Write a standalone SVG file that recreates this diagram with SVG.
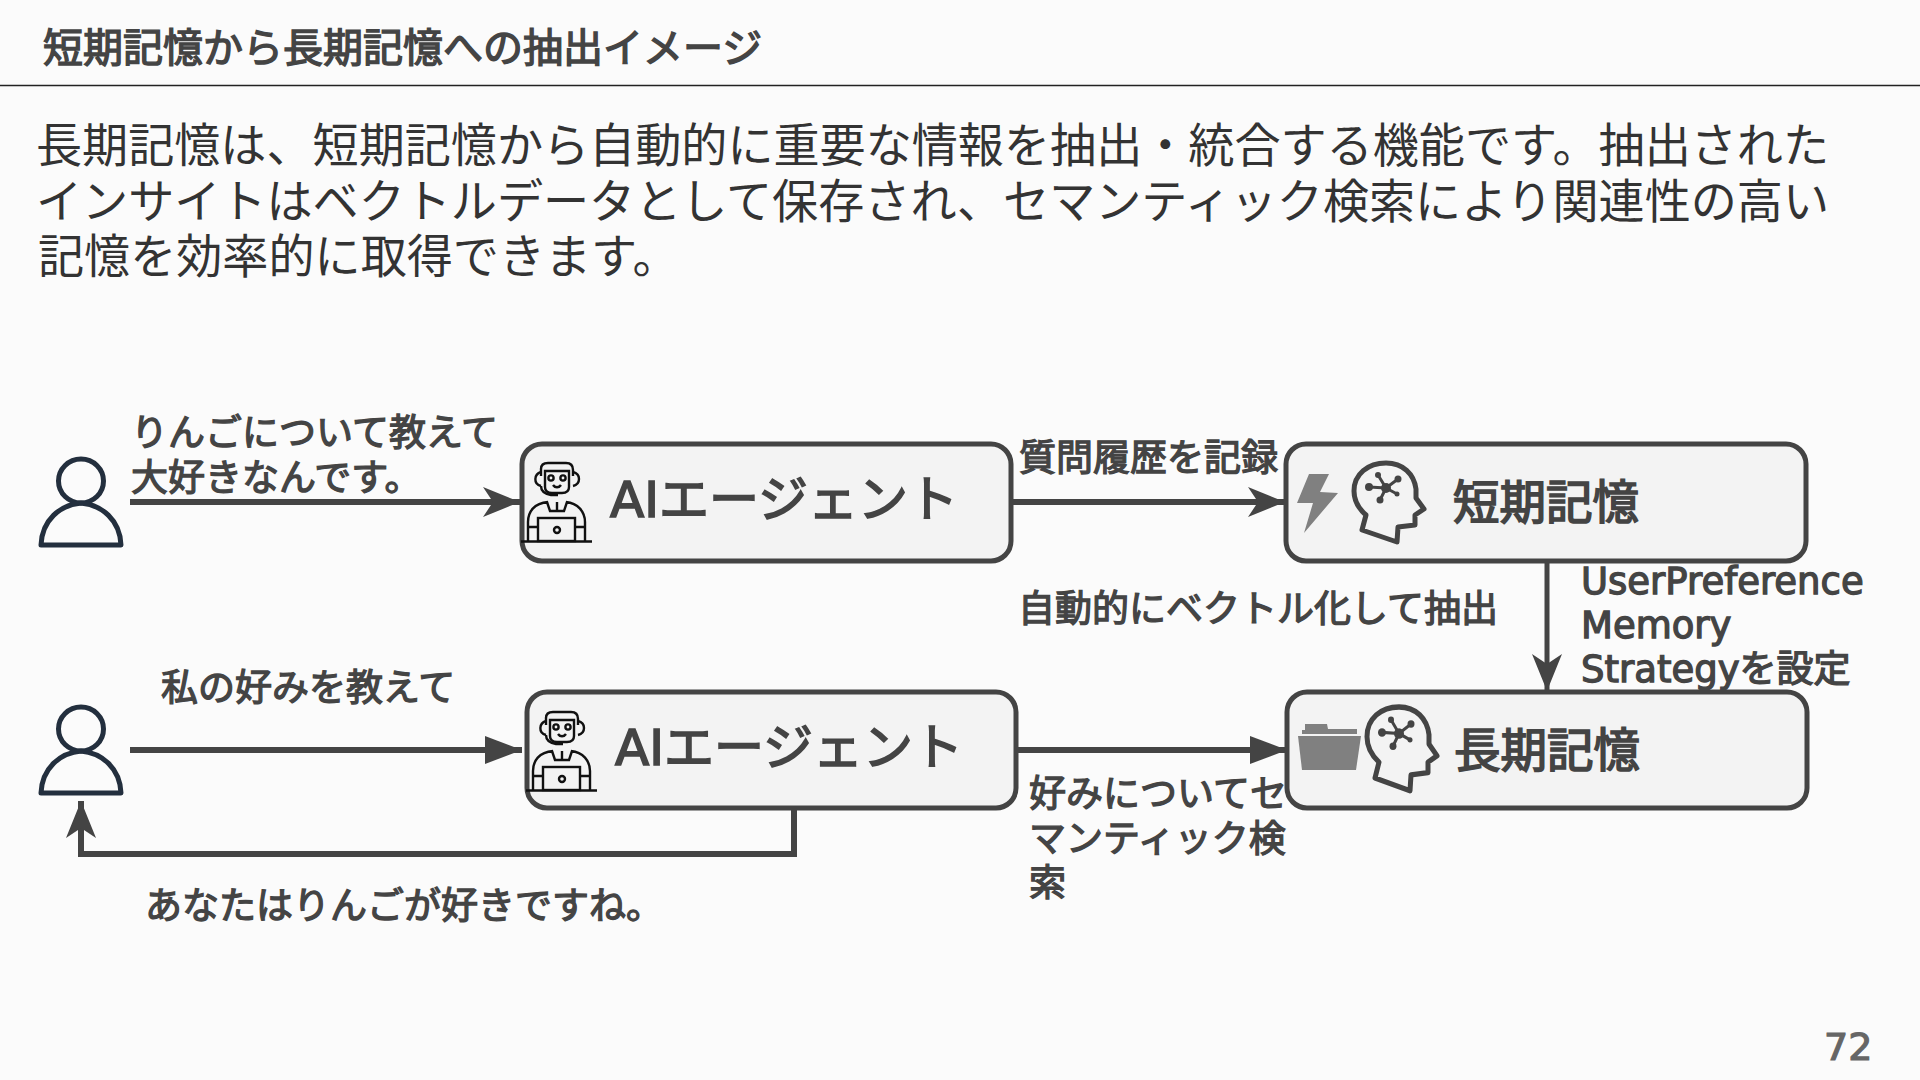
<svg xmlns="http://www.w3.org/2000/svg" width="1920" height="1080" viewBox="0 0 1920 1080">
<style>
text{font-family:"DejaVu Sans","Noto Sans CJK JP",sans-serif}
.lb{font-size:37px;fill:#444;stroke:#444;stroke-width:1.300}
.nd{font-size:46.500px;fill:#444;stroke:#444;stroke-width:1.700}
.ai{font-size:50px}
.body{font-size:46.100px;fill:#333}
.box{fill:#f3f3f3;stroke:#444;stroke-width:5}
.c{fill:none;stroke:#444;stroke-width:6}
.rb{fill:none;stroke:#111;stroke-width:2.400}
.pr{fill:none;stroke:#232f3e;stroke-width:5;stroke-linejoin:round}
</style>
<defs>
<marker id="st" markerUnits="userSpaceOnUse" markerWidth="40" markerHeight="32" refX="37" refY="15" orient="auto"><path d="M0 0L37 15L0 30L10 15Z" fill="#444"/></marker>
<marker id="bk" markerUnits="userSpaceOnUse" markerWidth="40" markerHeight="32" refX="37" refY="14" orient="auto"><path d="M0 0L37 14L0 28Z" fill="#444"/></marker>
<g id="person"><ellipse cx="81" cy="481" rx="22.500" ry="22" class="pr"/><path d="M41 545C42 520 60 505 81 503C102 505 120 520 121 545Z" class="pr"/></g>
<g id="robot">
<path class="rb" d="M541 476V469C541 464 544 463 548 463H566C570 463 573 465 573 470V476"/>
<path class="rb" d="M545 471H569V487C569 491 566 493 562 493H552C548 493 545 491 545 487Z"/>
<path class="rb" d="M541 472C534 474 533 484 541 486M573 472C581 474 581 484 573 486M541 486C541 492 545 494 551 495H558"/>
<circle class="rb" cx="551" cy="478" r="2.600"/><circle class="rb" cx="563" cy="478" r="2.600"/>
<path class="rb" d="M553 485C555 488 559 488 561 485"/>
<path class="rb" d="M548 502C534 503 528 512 528 522V541M566 502C578 503 585 512 585 522V541M547 502L550 511H564L567 502M557 502V511"/>
<rect class="rb" x="538" y="518" width="37" height="23"/><circle class="rb" cx="557" cy="530" r="3"/>
<path class="rb" d="M528 527H538M575 527H585M521 541.500H592"/>
</g>
<g id="head">
<path d="M1362 530L1366 515C1358 508 1354 500 1354 491C1354 474 1368 463 1386 463C1403 463 1414 474 1416 489L1416 498L1424 509L1415 515L1415 525L1398 527L1397 542Z" fill="none" stroke="#444" stroke-width="5" stroke-linejoin="round"/>
<path d="M1386 488L1369 487M1386 488L1378 475M1386 488L1398 479M1386 488L1397 494M1386 488L1380 500" stroke="#444" stroke-width="3"/>
<circle cx="1386" cy="488" r="5" fill="#444"/><circle cx="1369" cy="487" r="4" fill="#444"/><circle cx="1378" cy="475" r="3" fill="#444"/><circle cx="1398" cy="479" r="3.500" fill="#444"/><circle cx="1397" cy="494" r="2.500" fill="#444"/><circle cx="1380" cy="500" r="3.500" fill="#444"/>
</g>
</defs>
<rect width="1920" height="1080" fill="#fbfbfb"/>
<g id="header">
<text x="43" y="62" font-size="40" fill="#444" stroke="#444" stroke-width="1.400">短期記憶から長期記憶への抽出イメージ</text>
<path d="M0 85.500H1920" stroke="#222" stroke-width="1.500"/>
</g>
<g id="intro">
<text class="body" x="36" y="162">長期記憶は、短期記憶から自動的に重要な情報を抽出・統合する機能です。抽出された</text>
<text class="body" x="36" y="218">インサイトはベクトルデータとして保存され、セマンティック検索により関連性の高い</text>
<text class="body" x="38" y="273">記憶を効率的に取得できます。</text>
</g>
<g id="connectors">
<path class="c" d="M130 502H520" marker-end="url(#st)"/>
<path class="c" d="M1012 502H1285" marker-end="url(#st)"/>
<path class="c" d="M1547 561V691" marker-end="url(#st)" style="stroke-width:5"/>
<path class="c" d="M130 750H522" marker-end="url(#bk)"/>
<path class="c" d="M1016 750H1287" marker-end="url(#bk)"/>
<path class="c" d="M794 808V854H81V801" marker-end="url(#st)"/>
</g>
<g id="user1"><use href="#person"/></g>
<g id="user2"><use href="#person" y="248"/></g>
<g id="agent1"><rect class="box" x="522" y="444" width="489" height="117" rx="20"/><use href="#robot"/><text class="nd ai" x="610" y="517">AIエージェント</text></g>
<g id="agent2"><rect class="box" x="527" y="692" width="489" height="116" rx="20"/><use href="#robot" x="5" y="249"/><text class="nd ai" x="615" y="765">AIエージェント</text></g>
<g id="short-term"><rect class="box" x="1286" y="444" width="520" height="117" rx="20"/>
<path d="M1309 474H1329L1320 492L1338 493L1304 533L1313 503L1297 503Z" fill="#808080"/>
<use href="#head"/><text class="nd" x="1453" y="519">短期記憶</text></g>
<g id="long-term"><rect class="box" x="1287" y="692" width="520" height="116" rx="20"/>
<path d="M1305 724H1327L1328 729H1357V734H1302V730H1305Z" fill="#808080"/><path d="M1298 736H1361L1356 770H1302Z" fill="#808080"/>
<use href="#head" transform="translate(1367 707) scale(1 1.06) translate(-1354 -463)"/><text class="nd" x="1454" y="767">長期記憶</text></g>
<g id="labels">
<text class="lb" x="131" y="446">りんごについて教えて</text>
<text class="lb" x="131" y="491">大好きなんです。</text>
<text class="lb" x="1019" y="471">質問履歴を記録</text>
<text class="lb" x="1018" y="622">自動的にベクトル化して抽出</text>
<text class="lb" x="1581" y="594">UserPreference</text>
<text class="lb" x="1581" y="638">Memory</text>
<text class="lb" x="1581" y="682">Strategyを設定</text>
<text class="lb" x="161" y="701">私の好みを教えて</text>
<text class="lb" x="145" y="919">あなたはりんごが好きですね。</text>
<text class="lb" x="1029" y="807">好みについてセ</text>
<text class="lb" x="1029" y="852">マンティック検</text>
<text class="lb" x="1029" y="896">索</text>
</g>
<text x="1824" y="1060" font-size="38" fill="#666" stroke="#666" stroke-width="1.200">72</text>
</svg>
